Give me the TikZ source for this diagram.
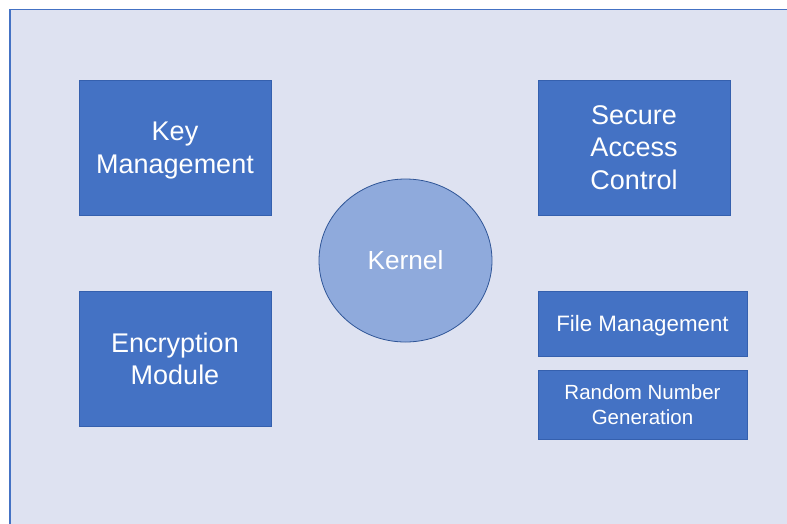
\documentclass[tikz,border=0pt]{standalone}
\usepackage{fontspec}
\setmainfont{Liberation Sans}
\usetikzlibrary{shapes.geometric}

\definecolor{bgfill}{HTML}{DEE2F1}
\definecolor{frameblue}{HTML}{4472C4}
\definecolor{boxfill}{HTML}{4472C4}
\definecolor{boxedge}{HTML}{3560AE}
\definecolor{kernfill}{HTML}{8FAADC}
\definecolor{kernedge}{HTML}{2F5597}

\begin{document}
\begin{tikzpicture}[x=1pt, y=-1pt,
  modbox/.style={draw=boxedge, line width=0.8pt, fill=boxfill, text=white,
    inner sep=0pt, align=center, text depth=0pt,
    minimum width=192pt, minimum height=135pt,
    font=\fontsize{27}{32.5}\selectfont},
  smallbox/.style={modbox, minimum width=209pt, font=\fontsize{20.5}{24.5}\selectfont},
  kernelnode/.style={ellipse, draw=kernedge, line width=0.8pt, fill=kernfill,
    text=white, inner sep=0pt, text depth=0pt,
    minimum width=173pt, minimum height=163pt,
    font=\fontsize{26.2}{30}\selectfont}]

\useasboundingbox (0,0) rectangle (787,523);
\clip (0,0) rectangle (787,523);

% background panel
\draw[fill=bgfill, draw=frameblue, line width=1.4pt] (10,9.5) rectangle (810,545);

% left column
\node[modbox] (keymgmt) at (175,147.5) {Key\\Management};
\node[modbox] (encrypt) at (175,358.5) {Encryption\\Module};

% centre
\node[kernelnode] (kernel) at (405.5,260.5) {Kernel};

% right column
\node[modbox] (access) at (634,147.5) {Secure\\Access\\Control};
\node[smallbox, minimum height=65pt,
  font=\fontsize{22.3}{25}\selectfont] (filemgmt) at (642.5,323.5) {File Management};
\node[smallbox, minimum height=69pt] (rng) at (642.5,404.5) {Random Number\\Generation};

\end{tikzpicture}
\end{document}
